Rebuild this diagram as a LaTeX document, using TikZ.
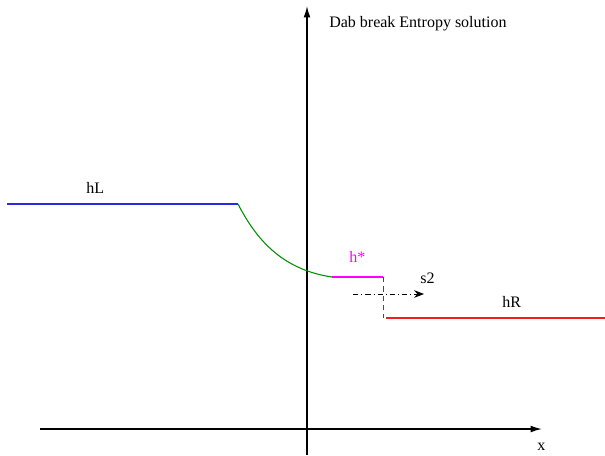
\documentclass[tikz,border=0pt]{standalone}
\usepackage{fontspec}
\setmainfont{Liberation Serif}
\usepackage{xcolor}
\usepackage{tikz}
\usetikzlibrary{arrows.meta}
\definecolor{hlblue}{RGB}{40,40,230}
\definecolor{fangreen}{RGB}{0,140,0}
\definecolor{starmag}{RGB}{255,0,255}
\definecolor{hrred}{RGB}{240,30,30}
\tikzset{
  axis/.style={line width=1.1pt, -{Latex[length=3mm, width=1.8mm]}},
  state/.style={line width=0.8pt},
  shock/.style={line width=0.7pt, dash pattern=on 4pt off 2.2pt on 0.8pt off 2.2pt, -{Stealth[length=2.6mm, width=2mm]}},
  jump/.style={line width=0.7pt, black!70, dash pattern=on 4pt off 3pt},
  lbl/.style={anchor=base west, inner sep=0pt},
  every node/.style={font=\fontsize{12}{14}\selectfont}
}

\begin{document}
\begin{tikzpicture}[x=0.75pt, y=-0.75pt]
    \useasboundingbox (0,0) rectangle (605,455);
    % axes
    \coordinate (ybot) at (307,455);
    \coordinate (ytop) at (307,6);
    \coordinate (xleft) at (40,429);
    \coordinate (xright) at (542,429);
    \draw[axis] (ybot) -- (ytop);
    \draw[axis] (xleft) -- (xright);
    \node[lbl] (xlab) at (537,450) {x};
    \node[lbl] (title) at (329,27) {Dab break Entropy solution};

    % states
    \coordinate (hLa) at (7,204);
    \coordinate (hLb) at (238,204);
    \coordinate (hsa) at (332,277);
    \coordinate (hsb) at (383,277);
    \coordinate (hsc) at (383,318);
    \coordinate (hRa) at (386,318);
    \coordinate (hRb) at (605,318);
    \draw[state, hlblue] (hLa) -- (hLb);
    \draw[state, fangreen] (hLb) .. controls (258,243) and (285,270) .. (hsa);
    \draw[state, starmag] (hsa) -- (hsb);
    \draw[jump] (hsb) -- (hsc);
    \draw[state, hrred] (hRa) -- (hRb);
    \node[lbl] (hL) at (86,193) {hL};
    \node[lbl, text=starmag] (hstar) at (349,262) {h*};
    \node[lbl] (hR) at (502,307) {hR};

    % shock speed
    \coordinate (s2a) at (353,294);
    \coordinate (s2b) at (424,294);
    \draw[shock] (s2a) -- (s2b);
    \node[lbl] (s2) at (420,283) {s2};
\end{tikzpicture}
\end{document}
